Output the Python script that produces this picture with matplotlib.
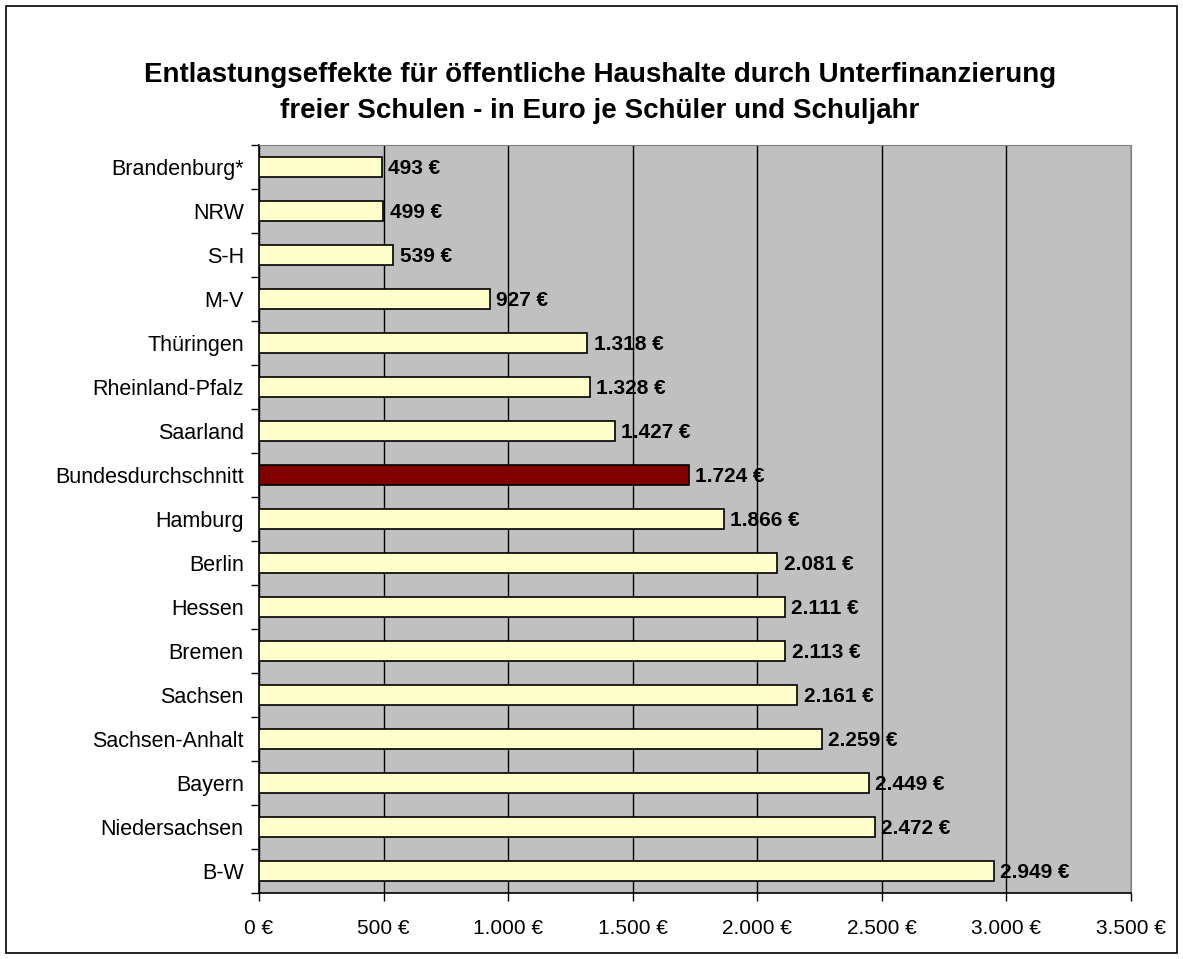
import matplotlib
matplotlib.use("Agg")
import matplotlib.pyplot as plt
from matplotlib.patches import Rectangle
import numpy as np

categories = ["Brandenburg*", "NRW", "S-H", "M-V", "Thüringen", "Rheinland-Pfalz",
              "Saarland", "Bundesdurchschnitt", "Hamburg", "Berlin", "Hessen", "Bremen",
              "Sachsen", "Sachsen-Anhalt", "Bayern", "Niedersachsen", "B-W"]
values = [493, 499, 539, 927, 1318, 1328, 1427, 1724, 1866, 2081, 2111, 2113,
          2161, 2259, 2449, 2472, 2949]
highlight = "Bundesdurchschnitt"
xticks = [0, 500, 1000, 1500, 2000, 2500, 3000, 3500]

def fmt(v):
    return f"{v:,}".replace(",", ".") + " €"

plt.rcParams['font.family'] = ['Liberation Sans', 'DejaVu Sans']

fig = plt.figure(figsize=(11.83, 9.59), dpi=100)
fig.patches.append(Rectangle((6/1183, 6/959), 1 - 12/1183, 1 - 12/959,
                             transform=fig.transFigure, fill=False,
                             edgecolor='black', linewidth=1.2))
ax = fig.add_axes([259/1183, 1 - 893/959, (1131 - 259)/1183, (893 - 145)/959])
ax.set_facecolor('#C0C0C0')

y = np.arange(len(categories))
colors = ['#800000' if c == highlight else '#FFFFCC' for c in categories]
ax.barh(y, values, height=0.46, color=colors, edgecolor='black', linewidth=1.2, zorder=3)
for yi, v in zip(y, values):
    ax.text(v + 25, yi + 0.03, fmt(v), va='center', ha='left', fontsize=15,
            fontweight='bold', zorder=4)

ax.set_ylim(len(categories) - 0.5, -0.5)
ax.set_xlim(0, 3500)
ax.set_xticks(xticks)
ax.set_xticklabels([fmt(t) for t in xticks], fontsize=15)
ax.set_yticks(y)
ax.set_yticklabels(categories, fontsize=15.5)
ax.set_yticks(np.arange(-0.5, len(categories), 1), minor=True)
ax.tick_params(axis='y', which='major', length=0, pad=11)
ax.tick_params(axis='y', which='minor', length=6, width=1, direction='out')
ax.tick_params(axis='x', which='major', length=6, width=1, direction='out', pad=13)
ax.grid(axis='x', color='black', linewidth=1, zorder=1)
ax.set_axisbelow(True)
for s in ['top', 'right']:
    ax.spines[s].set_color('#808080')
for s in ['left', 'bottom']:
    ax.spines[s].set_color('black')
    ax.spines[s].set_linewidth(1.2)

fig.text(0.507, 1 - 75/959, "Entlastungseffekte für öffentliche Haushalte durch Unterfinanzierung",
         ha='center', va='center', fontsize=20, fontweight='bold')
fig.text(0.507, 1 - 111/959, "freier Schulen - in Euro je Schüler und Schuljahr",
         ha='center', va='center', fontsize=20, fontweight='bold')

fig.savefig("out.png", dpi=100)
